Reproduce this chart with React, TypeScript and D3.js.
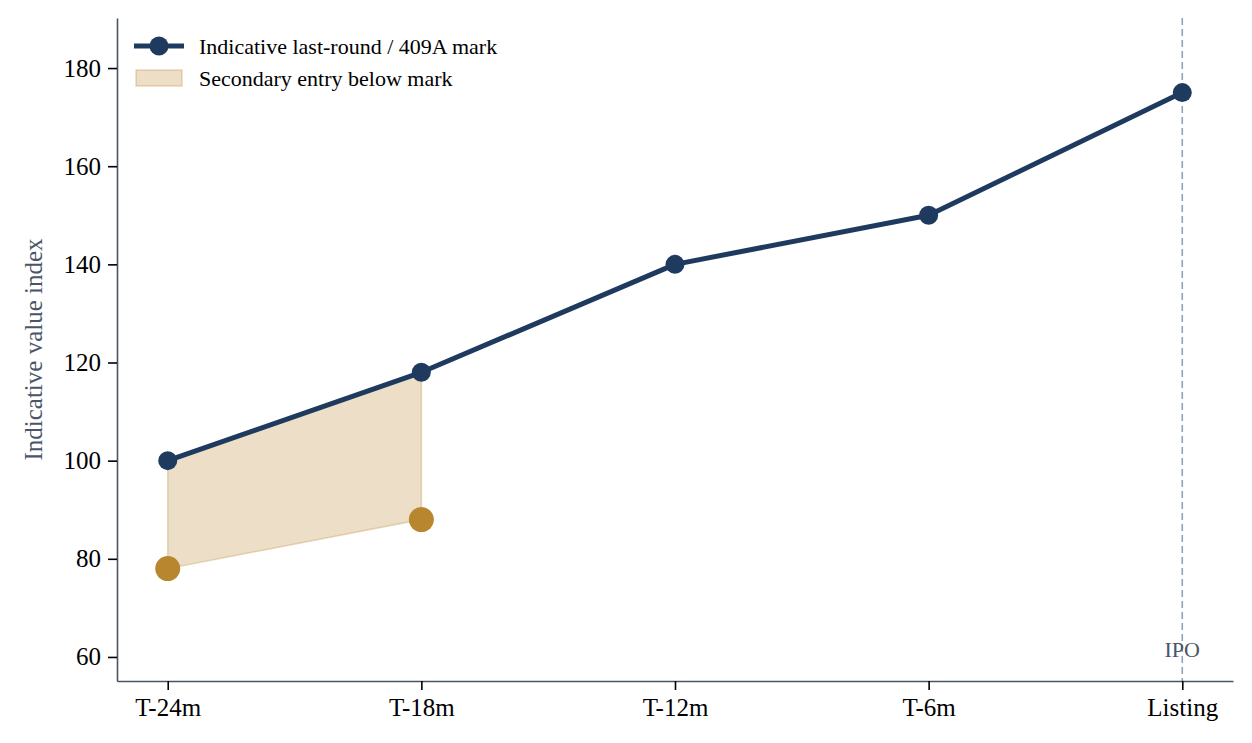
import React, { useEffect, useRef } from 'react';
import * as d3 from 'd3';

// Chart data
const periods = ['T-24m', 'T-18m', 'T-12m', 'T-6m', 'Listing'];
const markValues = [100, 118, 140, 150, 175];
const secondaryPeriods = ['T-24m', 'T-18m'];
const secondaryValues = [78, 88];
const yTicks = [60, 80, 100, 120, 140, 160, 180];

const NAVY = '#1f3a5f';
const GOLD = '#b8862f';
const FONT = '"Liberation Serif", "Times New Roman", serif';

const App: React.FC = () => {
  const svgRef = useRef<SVGSVGElement>(null);

  useEffect(() => {
    if (!svgRef.current) return;
    const W = 1252;
    const H = 743;
    const margin = { top: 18, right: 19, bottom: 62, left: 117 };
    const width = W - margin.left - margin.right;
    const height = H - margin.top - margin.bottom;

    const svg = d3.select(svgRef.current);
    svg.selectAll('*').remove();
    svg.attr('width', W).attr('height', H);

    const g = svg.append('g').attr('transform', `translate(${margin.left},${margin.top})`);

    // Scales
    const xScale = d3.scaleLinear().domain([-0.2, periods.length - 1 + 0.2]).range([0, width]);
    const xPos = (p: string) => xScale(periods.indexOf(p));
    const yScale = d3.scaleLinear().domain([55.1, 190.2]).range([height, 0]);

    // IPO reference line
    g.append('line')
      .attr('x1', xPos('Listing'))
      .attr('x2', xPos('Listing'))
      .attr('y1', 0)
      .attr('y2', height)
      .attr('stroke', '#8fa3b8')
      .attr('stroke-width', 1.6)
      .attr('stroke-dasharray', '7,4');

    g.append('text')
      .attr('x', xPos('Listing'))
      .attr('y', yScale(60))
      .attr('text-anchor', 'middle')
      .style('font-family', FONT)
      .style('font-size', '22px')
      .style('fill', '#4a5568')
      .text('IPO');

    // Shaded gap between the mark and secondary entry
    const gap = secondaryPeriods.map((p, i) => ({
      p,
      lo: secondaryValues[i],
      hi: markValues[periods.indexOf(p)],
    }));
    const area = d3.area<typeof gap[number]>()
      .x(d => xPos(d.p))
      .y0(d => yScale(d.lo))
      .y1(d => yScale(d.hi));
    g.append('path')
      .datum(gap)
      .attr('d', area)
      .attr('fill', 'rgba(184,134,47,0.27)')
      .attr('stroke', 'rgba(184,134,47,0.3)')
      .attr('stroke-width', 1.5);

    // Main line
    const line = d3.line<number>()
      .x((_, i) => xScale(i))
      .y(d => yScale(d));
    g.append('path')
      .datum(markValues)
      .attr('d', line)
      .attr('fill', 'none')
      .attr('stroke', NAVY)
      .attr('stroke-width', 5)
      .attr('stroke-linejoin', 'round');

    g.selectAll('.mark-dot')
      .data(markValues)
      .enter()
      .append('circle')
      .attr('class', 'mark-dot')
      .attr('cx', (_, i) => xScale(i))
      .attr('cy', d => yScale(d))
      .attr('r', 9.5)
      .attr('fill', NAVY);

    g.selectAll('.sec-dot')
      .data(secondaryValues)
      .enter()
      .append('circle')
      .attr('class', 'sec-dot')
      .attr('cx', (_, i) => xPos(secondaryPeriods[i]))
      .attr('cy', d => yScale(d))
      .attr('r', 12.5)
      .attr('fill', GOLD);

    // Axes
    const xAxis = g.append('g')
      .attr('transform', `translate(0,${height})`)
      .call(d3.axisBottom(xScale)
        .tickValues(d3.range(periods.length))
        .tickFormat(i => periods[i as number])
        .tickSizeInner(9)
        .tickSizeOuter(0)
        .tickPadding(8));
    xAxis.select('.domain').attr('stroke', '#4a5563').attr('stroke-width', 1.6);
    xAxis.selectAll('.tick line').attr('stroke', '#000').attr('stroke-width', 1.6);
    xAxis.selectAll('.tick text')
      .style('font-family', FONT)
      .style('font-size', '25px')
      .style('fill', '#000')
      .attr('dy', '0.72em');

    const yAxis = g.append('g')
      .call(d3.axisLeft(yScale)
        .tickValues(yTicks)
        .tickSizeInner(9)
        .tickSizeOuter(0)
        .tickPadding(7));
    yAxis.select('.domain').attr('stroke', '#4a5563').attr('stroke-width', 1.6);
    yAxis.selectAll('.tick line').attr('stroke', '#000').attr('stroke-width', 1.6);
    yAxis.selectAll('.tick text')
      .style('font-family', FONT)
      .style('font-size', '25px')
      .style('fill', '#000');

    // Y label
    g.append('text')
      .attr('transform', 'rotate(-90)')
      .attr('x', -height / 2)
      .attr('y', -75)
      .attr('text-anchor', 'middle')
      .style('font-family', FONT)
      .style('font-size', '25px')
      .style('fill', '#4a5568')
      .text('Indicative value index');

    // Legend
    const lg = g.append('g').attr('transform', 'translate(17,28)');
    lg.append('line')
      .attr('x1', 0).attr('x2', 50).attr('y1', 0).attr('y2', 0)
      .attr('stroke', NAVY).attr('stroke-width', 5);
    lg.append('circle').attr('cx', 25).attr('cy', 0).attr('r', 9.5).attr('fill', NAVY);
    lg.append('text')
      .attr('x', 65).attr('y', 8)
      .style('font-family', FONT).style('font-size', '22px').style('fill', '#000')
      .text('Indicative last-round / 409A mark');
    lg.append('rect')
      .attr('x', 2).attr('y', 24).attr('width', 46).attr('height', 16)
      .attr('fill', 'rgba(184,134,47,0.27)')
      .attr('stroke', 'rgba(184,134,47,0.3)')
      .attr('stroke-width', 1.5);
    lg.append('text')
      .attr('x', 65).attr('y', 40)
      .style('font-family', FONT).style('font-size', '22px').style('fill', '#000')
      .text('Secondary entry below mark');
  }, []);

  return (
    <svg
      ref={svgRef}
      style={{ position: 'absolute', left: 0, top: 0, background: '#fff' }}
    />
  );
};

export default App;
